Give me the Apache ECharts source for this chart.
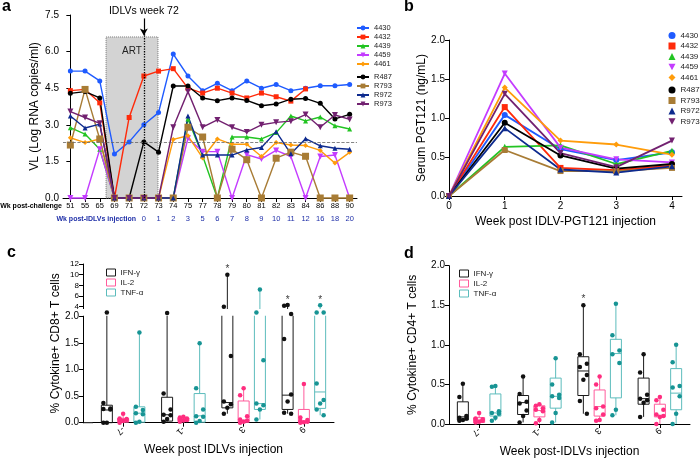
<!DOCTYPE html>
<html><head><meta charset="utf-8">
<script src="https://cdn.jsdelivr.net/npm/echarts@6/dist/echarts.min.js"></script>
<style>html,body{margin:0;padding:0;background:#fff}#c{width:700px;height:459px}</style>
</head><body><div id="c"></div>
<script>
// ---------------- DATA ----------------
const WEEKS_CHALLENGE = ['51','55','65','69','71','72','73','74','75','77','78','79','80','81','82','83','84','86','88','90'];
const WEEKS_IDLV = ['','','','','','0','1','2','3','5','6','7','8','9','10','11','12','16','18','20'];
const ANIMALS = ['4430','4432','4439','4459','4461','R487','R793','R972','R973'];

const VL_4430 = [5.2,5.2,4.8,1.8,2.3,3.0,3.5,5.9,5.0,4.4,4.7,4.4,4.8,4.5,4.65,4.4,4.5,4.6,4.6,4.65];
const VL_4432 = [4.4,4.45,3.9,0,3.3,5.0,5.2,5.3,4.5,4.3,4.5,4.3,4.1,4.3,4.15,3.97,4.47,null,null,null];
const VL_4439 = [2.88,2.62,2.0,0,0,0,0,0,3.24,1.72,0,2.5,2.5,2.42,2.68,3.36,3.16,3.32,2.96,2.83];
const VL_4459 = [0,0,2.0,0,0,0,0,0,2.45,1.9,1.9,0,1.78,1.6,1.95,1.7,0,1.7,1.76,0];
const VL_4461 = [2.47,2.27,2.42,0,0,0,0,2.4,2.55,1.64,2.42,2.2,2.2,1.7,2.27,2.17,2.15,1.95,1.43,1.87];
const VL_R487 = [4.29,4.36,4.1,0,0,2.3,1.88,4.59,4.59,4.1,3.99,4.1,4.0,3.78,3.85,4.05,4.08,3.88,3.24,3.43];
const VL_R793 = [2.17,4.45,2.42,0,0,0,0,0,2.9,2.5,0,2.0,1.57,0,1.63,1.88,1.71,0,0,0];
const VL_R972 = [3.36,2.87,3.03,0,0,0,0,0,3.36,1.76,1.76,1.76,1.97,2.07,2.72,1.81,2.43,2.14,2.04,2.0];
const VL_R973 = [3.54,3.3,3.06,0,0,0,0,2.9,4.36,2.9,3.2,2.9,2.7,3.0,3.1,3.15,3.42,2.9,3.4,3.22];
const VL_LIMIT = 2.3;
const ART_START = 2.43, ART_END = 5.96, ART_TOP = 6.6; // positions on the week index scale
const IDLV_WEEK_INDEX = 5;

const PGT_WEEKS = [0,1,2,3,4];
const PGT_4430 = [0,1.04,0.60,0.46,0.56];
const PGT_4432 = [0,1.14,0.36,0.33,0.39];
const PGT_4439 = [0,0.63,0.65,0.41,0.58];
const PGT_4459 = [0,1.57,0.62,0.47,0.43];
const PGT_4461 = [0,1.39,0.71,0.66,0.53];
const PGT_R487 = [0,0.94,0.52,0.35,0.41];
const PGT_R793 = [0,0.59,0.32,0.32,0.36];
const PGT_R972 = [0,0.87,0.34,0.30,0.38];
const PGT_R973 = [0,1.31,0.55,0.37,0.71];

const IDLV_GROUPS = ['-7','-1','3','9'];
const CYTOKINES = ['IFN-γ','IL-2','TNF-α'];
// box stats: [min, q1, median, q3, max] per week group
const CD8_IFN_BOX = [[0,0,0.24,0.33,2.08],[0.02,0.03,0.15,0.48,2.07],[0.17,0.28,0.38,3.0,10.0],[0.17,0.25,0.52,3.0,4.3]];
const CD8_IL2_BOX = [[0,0.01,0.06,0.08,0.17],[0.02,0.03,0.07,0.09,0.11],[0,0.01,0.05,0.41,0.65],[0,0.01,0.03,0.25,0.73]];
const CD8_TNF_BOX = [[0,0.01,0.18,0.30,1.70],[0,0.01,0.13,0.55,1.50],[0.06,0.25,0.36,3.0,7.2],[0.14,0.27,0.58,3.0,4.25]];
const CD8_IFN_DOTS = [[2.08,0.37,0.27,0.26,0.25,0,0],[2.07,0.55,0.25,0.15,0.14,0.07,0.02],[10.0,4.0,1.26,0.40,0.35,0.28,0.17],[4.3,4.2,2.05,1.58,0.53,0.40,0.19,0.17]];
const CD8_IL2_DOTS = [[0.17,0.08,0.07,0.06,0.05,0.03,0],[0.11,0.10,0.08,0.07,0.05,0.04,0.02],[0.65,0.52,0.12,0.06,0.04,0.02,0],[0.73,0.10,0.05,0.03,0.02,0.01,0]];
const CD8_TNF_DOTS = [[1.70,0.30,0.24,0.18,0.16,0.02,0],[1.50,0.65,0.25,0.12,0.11,0.03,0],[7.2,2.08,1.18,0.36,0.33,0.25,0.06],[4.25,2.08,2.08,0.74,0.43,0.36,0.25,0.14]];
const CD8_STARS = [[2,0,11.0],[3,0,5.3],[3,2,5.3]]; // [group, cytokine, value]

const CD4_IFN_BOX = [[0.04,0.05,0.09,0.28,0.51],[0.02,0.12,0.27,0.36,0.60],[0.13,0.36,0.67,0.85,1.50],[0.09,0.25,0.32,0.58,0.88]];
const CD4_IL2_BOX = [[0.02,0.02,0.05,0.08,0.14],[0.01,0.09,0.17,0.23,0.25],[0.04,0.10,0.22,0.43,0.60],[0,0.09,0.11,0.25,0.34]];
const CD4_TNF_BOX = [[0.04,0.10,0.14,0.38,0.48],[0.02,0.20,0.35,0.58,0.83],[0.11,0.33,0.89,1.07,1.52],[0,0.18,0.39,0.70,1.00]];
const CD4_IFN_DOTS = [[0.51,0.34,0.10,0.08,0.07,0.05,0.04],[0.60,0.38,0.28,0.26,0.17,0.10,0.02],[1.50,0.88,0.76,0.72,0.62,0.56,0.29,0.13],[0.88,0.65,0.37,0.32,0.30,0.27,0.09]];
const CD4_IL2_DOTS = [[0.14,0.07,0.06,0.05,0.04,0.03,0.02],[0.25,0.23,0.20,0.18,0.16,0.05,0.01],[0.60,0.50,0.22,0.20,0.12,0.05,0.04],[0.34,0.30,0.18,0.12,0.10,0.09,0]];
const CD4_TNF_DOTS = [[0.48,0.47,0.16,0.14,0.13,0.08,0.04],[0.83,0.50,0.37,0.35,0.33,0.14,0.02],[1.52,1.12,0.93,0.88,0.77,0.18,0.11],[1.00,0.78,0.48,0.46,0.35,0.13,0]];
const CD4_STARS = [[2,0,1.57]];

// ---------------- STYLE ----------------
const FONT = 'Liberation Sans, Arial, Helvetica, sans-serif';
const DOWN = 'path://M0,0L10,0L5,9Z';
const COLORS = {'4430':'#1f5bff','4432':'#ff2a0a','4439':'#22c422','4459':'#c43cff','4461':'#ff9c0a','R487':'#000000','R793':'#a87c35','R972':'#0d2a8e','R973':'#722170'};
const SYMBOLS = {'4430':'circle','4432':'rect','4439':'triangle','4459':DOWN,'4461':'diamond','R487':'circle','R793':'rect','R972':'triangle','R973':DOWN};
const BOX_COLORS = ['#1a1a1a','#ff5c9c','#5cbcbc'];
const DOT_COLORS = ['#111111','#ff2d7f','#179494'];
const GROUP_OFFSET = [-0.27, 0, 0.27];
const JITTER = [0,-3.5,3.5,-3.5,3.5,0,-3.5,3.5];
const BOX_HALF = 5.5;

const VL = {'4430':VL_4430,'4432':VL_4432,'4439':VL_4439,'4459':VL_4459,'4461':VL_4461,'R487':VL_R487,'R793':VL_R793,'R972':VL_R972,'R973':VL_R973};
const PGT = {'4430':PGT_4430,'4432':PGT_4432,'4439':PGT_4439,'4459':PGT_4459,'4461':PGT_4461,'R487':PGT_R487,'R793':PGT_R793,'R972':PGT_R972,'R973':PGT_R973};

// broken axis of panel c: 0-2 linear, upper part 4-12 compressed
const UP_BASE = 4, UP_BASE_DISP = 2.189, UP_SCALE = 0.1007, GAP_LO = 2.0, GAP_HI = 2.145;
function disp(v){ return v <= GAP_HI ? v : UP_BASE_DISP + (v - UP_BASE) * UP_SCALE; }
function undisp(d){ return d <= GAP_HI ? d : UP_BASE + (d - UP_BASE_DISP) / UP_SCALE; }

const axisLine = {show:true, lineStyle:{color:'#000', width:1}};
const axisTick = {show:true, length:4, lineStyle:{color:'#000', width:1}};
const noSplit = {show:false};
const nameStyle = {fontSize:12, color:'#000', fontFamily:FONT};

const series = [];
// Panel a
ANIMALS.forEach(n => series.push({
  type:'line', name:n, xAxisIndex:0, yAxisIndex:0, data:VL[n], clip:false,
  symbol:SYMBOLS[n], symbolSize: n==='R793'?7:(n==='4459'||n==='R973'?6:5),
  lineStyle:{width:1.4, color:COLORS[n]}, itemStyle:{color:COLORS[n]}, z:3, animation:false
}));
series.push({
  type:'line', xAxisIndex:2, yAxisIndex:0, data:[], silent:true, animation:false,
  markArea:{silent:true, z:1, itemStyle:{color:'#d3d3d3', borderColor:'#777', borderWidth:1, borderType:'dotted'},
    label:{show:true, position:'insideTop', distance:10, formatter:'ART', fontSize:10, color:'#222', fontFamily:FONT},
    data:[[{coord:[ART_START,0]},{coord:[ART_END,ART_TOP]}]]},
  markLine:{silent:true, symbol:'none', animation:false,
    label:{show:false},
    data:[
      [{coord:[IDLV_WEEK_INDEX,0], lineStyle:{type:'dotted', color:'#000', width:1.3}},{coord:[IDLV_WEEK_INDEX,6.72]}],
      [{yAxis:VL_LIMIT, x:63, lineStyle:{type:'dashed', color:'#666', width:0.8}},{yAxis:VL_LIMIT, x:357}],
      [{coord:[IDLV_WEEK_INDEX,7.36], symbol:'none', lineStyle:{type:'solid', color:'#000', width:1.2},
        label:{show:true, position:'start', distance:2, formatter:'IDLVs week 72', fontSize:10.5, color:'#000', fontFamily:FONT}},
       {coord:[IDLV_WEEK_INDEX,6.66], symbol:'arrow', symbolSize:[6,7]}]
    ]}
});
// Panel b
ANIMALS.forEach(n => series.push({
  type:'line', name:n, xAxisIndex:3, yAxisIndex:1, data:PGT_WEEKS.map((w,i)=>[w, PGT[n][i]]), clip:false,
  symbol:SYMBOLS[n], symbolSize:6, lineStyle:{width:1.8, color:COLORS[n]}, itemStyle:{color:COLORS[n]}, z:3, animation:false
}));

function boxRender(k){
  return function(params, api){
    const idx = api.value(0);
    const band = api.size([1,0])[0];
    const x = api.coord([idx, 0])[0] + band * GROUP_OFFSET[k];
    const y = j => api.coord([idx, api.value(j)])[1];
    const yMin=y(1), yQ1=y(2), yMed=y(3), yQ3=y(4), yMax=y(5);
    return {type:'group', children:[
      {type:'line', shape:{x1:x,y1:yMax,x2:x,y2:yQ3}, style:{stroke:BOX_COLORS[k], lineWidth:1}},
      {type:'line', shape:{x1:x,y1:yQ1,x2:x,y2:yMin}, style:{stroke:BOX_COLORS[k], lineWidth:1}},
      {type:'rect', shape:{x:x-BOX_HALF, y:yQ3, width:2*BOX_HALF, height:yQ1-yQ3}, style:{stroke:BOX_COLORS[k], lineWidth:1, fill:'rgba(255,255,255,0)'}},
      {type:'line', shape:{x1:x-BOX_HALF,y1:yMed,x2:x+BOX_HALF,y2:yMed}, style:{stroke:BOX_COLORS[k], lineWidth:1}}
    ]};
  };
}
function addBoxPanel(xi, yi, boxes, dots, stars, tf, band){
  boxes.forEach((box,k) => series.push({
    type:'custom', name:CYTOKINES[k], xAxisIndex:xi, yAxisIndex:yi, silent:true, animation:false, z:2,
    renderItem:boxRender(k), encode:{x:0, y:[1,2,3,4,5]},
    itemStyle:{color:BOX_COLORS[k]},
    data:box.map((b,i)=>[i].concat(b.map(tf)))
  }));
  dots.forEach((grp,k) => {
    const data = [];
    grp.forEach((vals,i) => vals.forEach((v,j) => data.push({value:[i, tf(v)], symbolOffset:[band*GROUP_OFFSET[k] + JITTER[j % JITTER.length], 0]})));
    series.push({type:'scatter', name:CYTOKINES[k], xAxisIndex:xi, yAxisIndex:yi, symbolSize:4.5, clip:false,
      itemStyle:{color:DOT_COLORS[k], opacity:1}, data, z:5, animation:false, silent:true});
  });
  series.push({type:'scatter', xAxisIndex:xi, yAxisIndex:yi, symbolSize:1, clip:false, silent:true, animation:false, z:5,
    itemStyle:{color:'rgba(0,0,0,0)'},
    label:{show:true, position:'inside', formatter:'*', fontSize:10, color:'#000', fontFamily:FONT},
    data:stars.map(s=>({value:[s[0], tf(s[2])], symbolOffset:[band*GROUP_OFFSET[s[1]],0]}))});
}
const BAND = 241/4;
addBoxPanel(4, 2, [CD8_IFN_BOX, CD8_IL2_BOX, CD8_TNF_BOX], [CD8_IFN_DOTS, CD8_IL2_DOTS, CD8_TNF_DOTS], CD8_STARS, disp, BAND);
// white gap of the broken axis
series.push({type:'custom', xAxisIndex:4, yAxisIndex:2, silent:true, animation:false, z:3, data:[[0]], encode:{x:0,y:0},
  renderItem:function(params, api){
    const cs = params.coordSys;
    const y1 = api.coord([0, GAP_LO])[1] - 1, y2 = api.coord([0, GAP_HI])[1];
    return {type:'rect', shape:{x:cs.x-14, y:y2, width:cs.width+14, height:y1-y2}, style:{fill:'#fff'}};
  }});
addBoxPanel(5, 3, [CD4_IFN_BOX, CD4_IL2_BOX, CD4_TNF_BOX], [CD4_IFN_DOTS, CD4_IL2_DOTS, CD4_TNF_DOTS], CD4_STARS, v=>v, BAND);

const upperTicks = [4,6,8,10,12].map(disp);
const cTicks = [0,0.5,1,1.5,2].concat(upperTicks);

const legendText = {fontSize:7.5, lineHeight:9, color:'#222', fontFamily:FONT};
const option = {
  animation:false,
  backgroundColor:'#fff',
  textStyle:{fontFamily:FONT},
  grid:[
    {left:63, top:15, width:294, height:183, outerBoundsMode:'none'},
    {left:449, top:40, width:233, height:156, outerBoundsMode:'none'},
    {left:93, top:264, width:241, height:158.7, outerBoundsMode:'none'},
    {left:449, top:265.7, width:241, height:158.3, outerBoundsMode:'none'}
  ],
  xAxis:[
    {type:'category', gridIndex:0, data:WEEKS_CHALLENGE, axisLine, axisTick:Object.assign({alignWithLabel:true}, axisTick), splitLine:noSplit,
      axisLabel:{interval:0, fontSize:7.5, color:'#000', margin:4, fontFamily:FONT}},
    {type:'category', gridIndex:0, data:WEEKS_CHALLENGE, position:'bottom', offset:13, axisLine:{show:false}, axisTick:{show:false}, splitLine:noSplit,
      axisLabel:{interval:0, fontSize:7.5, color:'#1f2fa8', margin:4, fontFamily:FONT, formatter:(v,i)=>WEEKS_IDLV[i]}},
    {type:'value', gridIndex:0, min:-0.5, max:19.5, show:false, splitLine:noSplit},
    {type:'value', gridIndex:1, min:0, max:4.18, axisLine, axisTick:Object.assign({customValues:PGT_WEEKS}, axisTick), splitLine:noSplit,
      axisLabel:{customValues:PGT_WEEKS, fontSize:10, color:'#000', margin:5, fontFamily:FONT},
      name:'Week post IDLV-PGT121 injection', nameLocation:'middle', nameGap:20, nameTextStyle:nameStyle},
    {type:'category', gridIndex:2, data:IDLV_GROUPS, axisLine, axisTick:Object.assign({alignWithLabel:true}, axisTick), splitLine:noSplit,
      axisLabel:{interval:0, rotate:-135, fontSize:9, color:'#000', margin:5, fontFamily:FONT},
      name:'Week post IDLVs injection', nameLocation:'middle', nameGap:21, nameTextStyle:nameStyle},
    {type:'category', gridIndex:3, data:IDLV_GROUPS, axisLine, axisTick:Object.assign({alignWithLabel:true}, axisTick), splitLine:noSplit,
      axisLabel:{interval:0, rotate:-135, fontSize:9, color:'#000', margin:5, fontFamily:FONT},
      name:'Week post-IDLVs injection', nameLocation:'middle', nameGap:22, nameTextStyle:nameStyle}
  ],
  yAxis:[
    {type:'value', gridIndex:0, min:0, max:7.5, interval:1.5, axisLine, axisTick, splitLine:noSplit,
      axisLabel:{fontSize:10, color:'#000', margin:4, fontFamily:FONT, formatter:v=>v.toFixed(1)},
      name:'VL (Log RNA copies/ml)', nameLocation:'middle', nameGap:22, nameTextStyle:nameStyle},
    {type:'value', gridIndex:1, min:0, max:2, interval:0.5, axisLine, axisTick, splitLine:noSplit,
      axisLabel:{fontSize:10, color:'#000', margin:4, fontFamily:FONT, formatter:v=>v.toFixed(1)},
      name:'Serum PGT121 (ng/mL)', nameLocation:'middle', nameGap:20, nameTextStyle:nameStyle},
    {type:'value', gridIndex:2, min:0, max:disp(12), offset:10, axisLine, axisTick:Object.assign({customValues:cTicks}, axisTick), splitLine:noSplit,
      axisLabel:{customValues:cTicks, fontSize:10, color:'#000', margin:4, fontFamily:FONT,
        formatter:v=> v <= GAP_LO + 1e-6 ? v.toFixed(1) : '{s|' + Math.round(undisp(v)) + '}', rich:{s:{fontSize:8, color:'#000', fontFamily:FONT}}},
      name:'% Cytokine+ CD8+ T cells', nameLocation:'middle', nameGap:19, nameTextStyle:nameStyle},
    {type:'value', gridIndex:3, min:0, max:2, interval:0.5, axisLine, axisTick, splitLine:noSplit,
      axisLabel:{fontSize:10, color:'#000', margin:4, fontFamily:FONT, formatter:v=>v.toFixed(1)},
      name:'% Cytokine+ CD4+ T cells', nameLocation:'middle', nameGap:30, nameTextStyle:nameStyle}
  ],
  legend:[
    {orient:'vertical', left:356, top:23.5, itemWidth:12, itemHeight:6, itemGap:0, selectedMode:false, textStyle:legendText, padding:0,
      data:ANIMALS.slice(0,5)},
    {orient:'vertical', left:356, top:72.5, itemWidth:12, itemHeight:6, itemGap:0, selectedMode:false, textStyle:legendText, padding:0,
      data:ANIMALS.slice(5)},
    {orient:'vertical', left:668.5, top:31.5, itemWidth:7, itemHeight:7, itemGap:2.5, selectedMode:false, padding:0,
      textStyle:{fontSize:8, lineHeight:8, color:'#222', fontFamily:FONT}, lineStyle:{color:'rgba(0,0,0,0)'},
      data:ANIMALS.slice(0,5).map(n=>({name:n, icon:SYMBOLS[n]}))},
    {orient:'vertical', left:668.5, top:86, itemWidth:7, itemHeight:7, itemGap:2.5, selectedMode:false, padding:0,
      textStyle:{fontSize:8, lineHeight:8, color:'#222', fontFamily:FONT}, lineStyle:{color:'rgba(0,0,0,0)'},
      data:ANIMALS.slice(5).map(n=>({name:n, icon:SYMBOLS[n]}))},
    {orient:'vertical', left:106, top:268.5, itemWidth:9, itemHeight:7, itemGap:2, selectedMode:false, padding:0,
      textStyle:{fontSize:8, lineHeight:7, color:'#222', fontFamily:FONT},
      data:CYTOKINES.map((c,k)=>({name:c, icon:'rect', itemStyle:{color:'#fff', borderColor:BOX_COLORS[k], borderWidth:1}}))},
    {orient:'vertical', left:459, top:269.5, itemWidth:9, itemHeight:7, itemGap:2, selectedMode:false, padding:0,
      textStyle:{fontSize:8, lineHeight:7, color:'#222', fontFamily:FONT},
      data:CYTOKINES.map((c,k)=>({name:c, icon:'rect', itemStyle:{color:'#fff', borderColor:BOX_COLORS[k], borderWidth:1}}))}
  ],
  graphic:[
    {type:'text', left:2, top:-1, style:{text:'a', font:'bold 16px ' + FONT, fill:'#000'}},
    {type:'text', left:404, top:-1, style:{text:'b', font:'bold 16px ' + FONT, fill:'#000'}},
    {type:'text', left:7, top:245, style:{text:'c', font:'bold 16px ' + FONT, fill:'#000'}},
    {type:'text', left:404, top:246, style:{text:'d', font:'bold 16px ' + FONT, fill:'#000'}},
    {type:'text', right:638, top:202.5, style:{text:'Wk post-challenge', font:'bold 7px ' + FONT, fill:'#000'}},
    {type:'text', right:564, top:215.5, style:{text:'Wk post-IDLVs injection', font:'bold 7px ' + FONT, fill:'#1f2fa8'}},
    {type:'line', shape:{x1:83, y1:422.7, x2:93, y2:422.7}, style:{stroke:'#000', lineWidth:1}}
  ],
  series
};
const chart = echarts.init(document.getElementById('c'), null, {renderer:'canvas'});
chart.setOption(option);
</script></body></html>
